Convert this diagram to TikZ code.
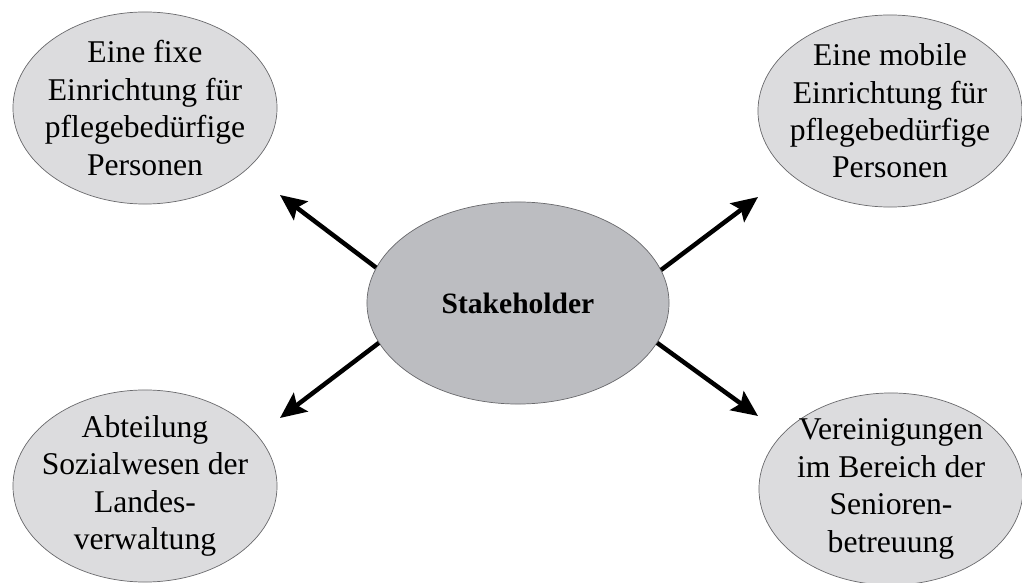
\documentclass[tikz,border=0pt]{standalone}
\usepackage{fontspec}
\setmainfont{Liberation Serif}
\usetikzlibrary{shapes.geometric,arrows.meta}

\definecolor{outerfill}{RGB}{220,220,222}
\definecolor{hubfill}{RGB}{188,189,193}
\definecolor{rimgray}{RGB}{105,105,108}

\begin{document}
\begin{tikzpicture}[x=0.025cm, y=-0.025cm,
    party/.style={ellipse, draw=rimgray, line width=0.5pt, fill=outerfill,
      minimum width=6.6cm, minimum height=4.8cm,
      inner xsep=-0.4cm, inner ysep=-0.6cm,
      align=center, font=\fontsize{22.5}{26.6}\selectfont},
    hubnode/.style={party, fill=hubfill, minimum width=7.55cm,
      minimum height=5.05cm, font=\fontsize{21}{25}\selectfont\bfseries},
    link/.style={line width=3.2pt, -{Stealth[length=0.65cm, width=0.58cm, inset=0.12cm]}}]
\useasboundingbox (0,0) rectangle (1022,583);

% the stakeholder in the middle and the four groups round it
\node[hubnode] (hub) at (518,303) {Stakeholder};
\node[party] (fixe)   at (145,108) {Eine fixe\\Einrichtung für\\pflegebedürfige\\Personen};
\node[party] (mobile) at (890,111) {Eine mobile\\Einrichtung für\\pflegebedürfige\\Personen};
\node[party] (amt)    at (145,486) {Abteilung\\Sozialwesen der\\Landes-\\verwaltung};
\node[party] (verein) at (891,489) {Vereinigungen\\im Bereich der\\Senioren-\\betreuung};

% arrow tips stop short of the outer ellipses
\coordinate (tipfixe)   at (280,195);
\coordinate (tipmobile) at (758,197);
\coordinate (tipamt)    at (280,418);
\coordinate (tipverein) at (758,416);

\draw[link] (hub.166) -- (tipfixe);
\draw[link] (hub.13)  -- (tipmobile);
\draw[link] (hub.196) -- (tipamt);
\draw[link] (hub.-16) -- (tipverein);
\end{tikzpicture}
\end{document}
